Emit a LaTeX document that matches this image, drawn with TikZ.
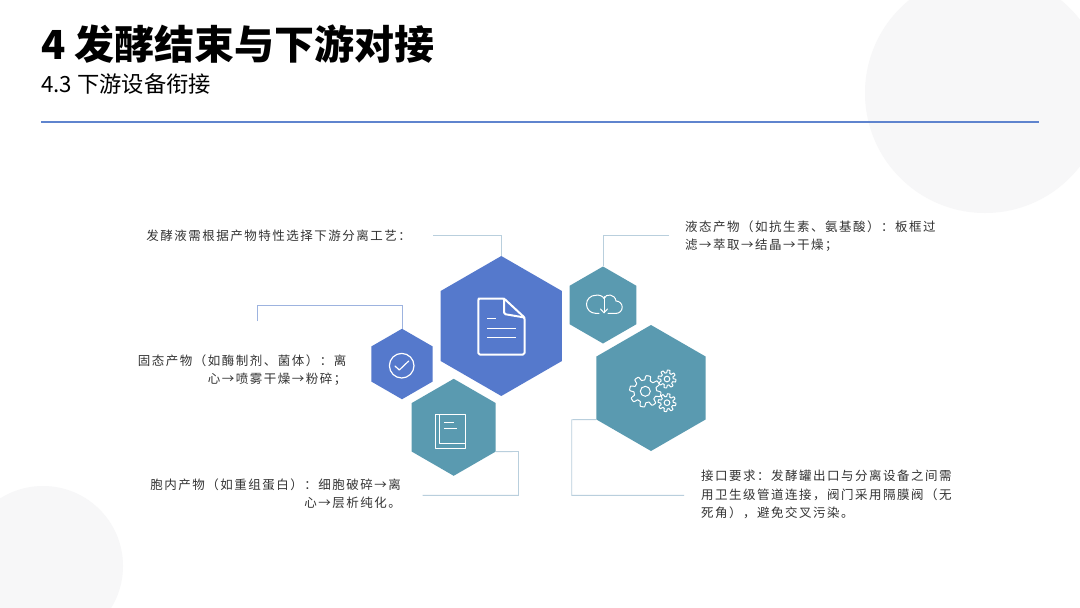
\documentclass[tikz,border=0pt]{standalone}
\usepackage{fontspec}
\setmainfont{Noto Sans CJK SC}
\newfontfamily\bodyfont[LetterSpace=12]{Noto Sans CJK SC}
\usetikzlibrary{shapes.geometric}
\definecolor{hexblue}{HTML}{5579CC}
\definecolor{hexteal}{HTML}{5A9AB0}
\definecolor{rulecol}{HTML}{5F84CE}
\definecolor{linkcol}{HTML}{B9CFDD}
\definecolor{linkblue}{HTML}{9DB3DF}
\definecolor{bgcircle}{HTML}{F7F7F8}
\definecolor{bodytext}{HTML}{333333}

\begin{document}
\begin{tikzpicture}[
  x=1pt, y=-1pt,
  hexbox/.style={regular polygon, regular polygon sides=6, shape border rotate=30, inner sep=0pt, draw=none},
  bluehex/.style={hexbox, fill=hexblue},
  tealhex/.style={hexbox, fill=hexteal},
  link/.style={draw=linkcol, line width=0.9pt},
  bodyright/.style={anchor=east, align=right, text=bodytext, font=\fontsize{12.5}{18.4}\selectfont\bodyfont},
  bodyleft/.style={anchor=west, align=left, text=bodytext, font=\fontsize{12.5}{18.4}\selectfont\bodyfont},
  icon/.style={draw=white, line width=1.2pt, line join=round, line cap=round},
]
\useasboundingbox (0,0) rectangle (1080,608);
\fill[white] (0,0) rectangle (1080,608);

% background circles
\begin{scope}
\clip (0,0) rectangle (1080,608);
\fill[bgcircle] (985,93) circle (120);
\fill[bgcircle] (43,566) circle (80);
\end{scope}

% title
\node[anchor=base west, inner sep=0pt, font=\fontsize{40}{40}\selectfont\bfseries] (title) at (41,59) {4 发酵结束与下游对接};
\node[anchor=base west, inner sep=0pt, font=\fontsize{22.3}{24}\selectfont] (subtitle) at (41,92) {4.3 下游设备衔接};
\coordinate (ruleL) at (41,122);
\coordinate (ruleR) at (1039,122);
\draw[rulecol, line width=2.6pt] (ruleL) -- (ruleR);

% hexagons
\node[bluehex, minimum size=140] (hexdoc) at (501.3,326) {};
\node[bluehex, minimum size=70.5] (hexcheck) at (402,364) {};
\node[tealhex, minimum size=97] (hexbook) at (453.7,427.3) {};
\node[tealhex, minimum size=77] (hexcloud) at (603,305) {};
\node[tealhex, minimum size=126] (hexgear) at (651,388) {};

% texts
\node[bodyright, inner sep=0pt] (textdoc) at (411,236) {发酵液需根据产物特性选择下游分离工艺：};
\node[bodyright, inner sep=0pt] (textcheck) at (346.5,370) {固态产物（如酶制剂、菌体）：离\\心→喷雾干燥→粉碎；};
\node[bodyright, inner sep=0pt] (textbook) at (401,494) {胞内产物（如重组蛋白）：细胞破碎→离\\心→层析纯化。};
\node[bodyleft, inner sep=0pt] (textcloud) at (685,236) {液态产物（如抗生素、氨基酸）：板框过\\滤→萃取→结晶→干燥；};
\node[bodyleft, inner sep=0pt] (textgear) at (701,494.5) {接口要求：发酵罐出口与分离设备之间需\\用卫生级管道连接，阀门采用隔膜阀（无\\死角），避免交叉污染。};

% connectors
\coordinate (enddoc) at (433,235.5);
\coordinate (endcloud) at (669,235.5);
\coordinate (endcheck) at (257.5,321);
\coordinate (endbook) at (422.7,495.3);
\coordinate (endgear) at (684,495.3);
\draw[link] (enddoc) -| (hexdoc.north);
\draw[link] (endcloud) -| (hexcloud.north);
\draw[link, draw=linkblue] (endcheck) |- (402,305.5) -- (hexcheck.north);
\draw[link] (hexbook.-30) -- (518.5,451.5) |- (endbook);
\draw[link] (hexgear.210) -- (571.7,419.7) |- (endgear);

% document icon
\draw[icon, line width=2pt, rounded corners=1.5pt] (504,298.5) -- (480,298.5) -- (478.3,298.5) -- (478.3,354.5) -- (524.5,354.5) -- (524.5,317.5) -- cycle;
\draw[icon, line width=2pt, rounded corners=1.5pt] (504,298.5) -- (504,314) -- (524.5,317.5);
\draw[icon, line width=1.6pt, line cap=butt] (487,318.3) -- (496,318.3);
\draw[icon, line width=1.6pt, line cap=butt] (487,328.3) -- (516,328.3);
\draw[icon, line width=1.6pt, line cap=butt] (487,337.3) -- (516,337.3);

% check icon
\draw[icon] (401.7,365.7) circle (12.3);
\draw[icon] (395,366) -- (399.3,370) -- (408.7,361);

% book icon
\draw[icon, line width=1pt, line cap=butt] (435.8,414.8) rectangle (465,448);
\draw[icon, line width=1pt, line cap=butt] (439.3,414.8) -- (439.3,443.3) -- (465,443.3);
\draw[icon, line width=1pt, line cap=butt] (444,422.3) -- (454,422.3);
\draw[icon, line width=1pt, line cap=butt] (444,428.3) -- (457.3,428.3);

% cloud icon
\draw[icon, line width=1pt] (599,313.3) -- (595.5,313.3) arc[start angle=90, end angle=270, radius=9] .. controls (599,294.5) and (603,296) .. (604,298.5) .. controls (606,293) and (615,294) .. (616,301) arc[start angle=-90, end angle=90, radius=6.2] -- (608,313.3);
\draw[icon, line width=1pt] (604,296.5) -- (604,312.5);
\draw[icon, line width=1pt] (600.5,309) -- (604,312.8) -- (607.5,309);

% gear icon
\foreach \cx/\cy/\rr/\dd in {645.3/391.3/13.5/2.2, 667/379/7.6/1.4, 667/402.7/7.6/1.4} {
  \draw[icon, line width=1pt] plot[domain=0:360, samples=145] ({\cx+(\rr+\dd*max(-1,min(1,2.5*sin(8*\x))))*cos(\x)}, {\cy+(\rr+\dd*max(-1,min(1,2.5*sin(8*\x))))*sin(\x)}) -- cycle;
  \draw[icon, line width=1pt] (\cx,\cy) circle (\rr*0.37);
}
\end{tikzpicture}
\end{document}
